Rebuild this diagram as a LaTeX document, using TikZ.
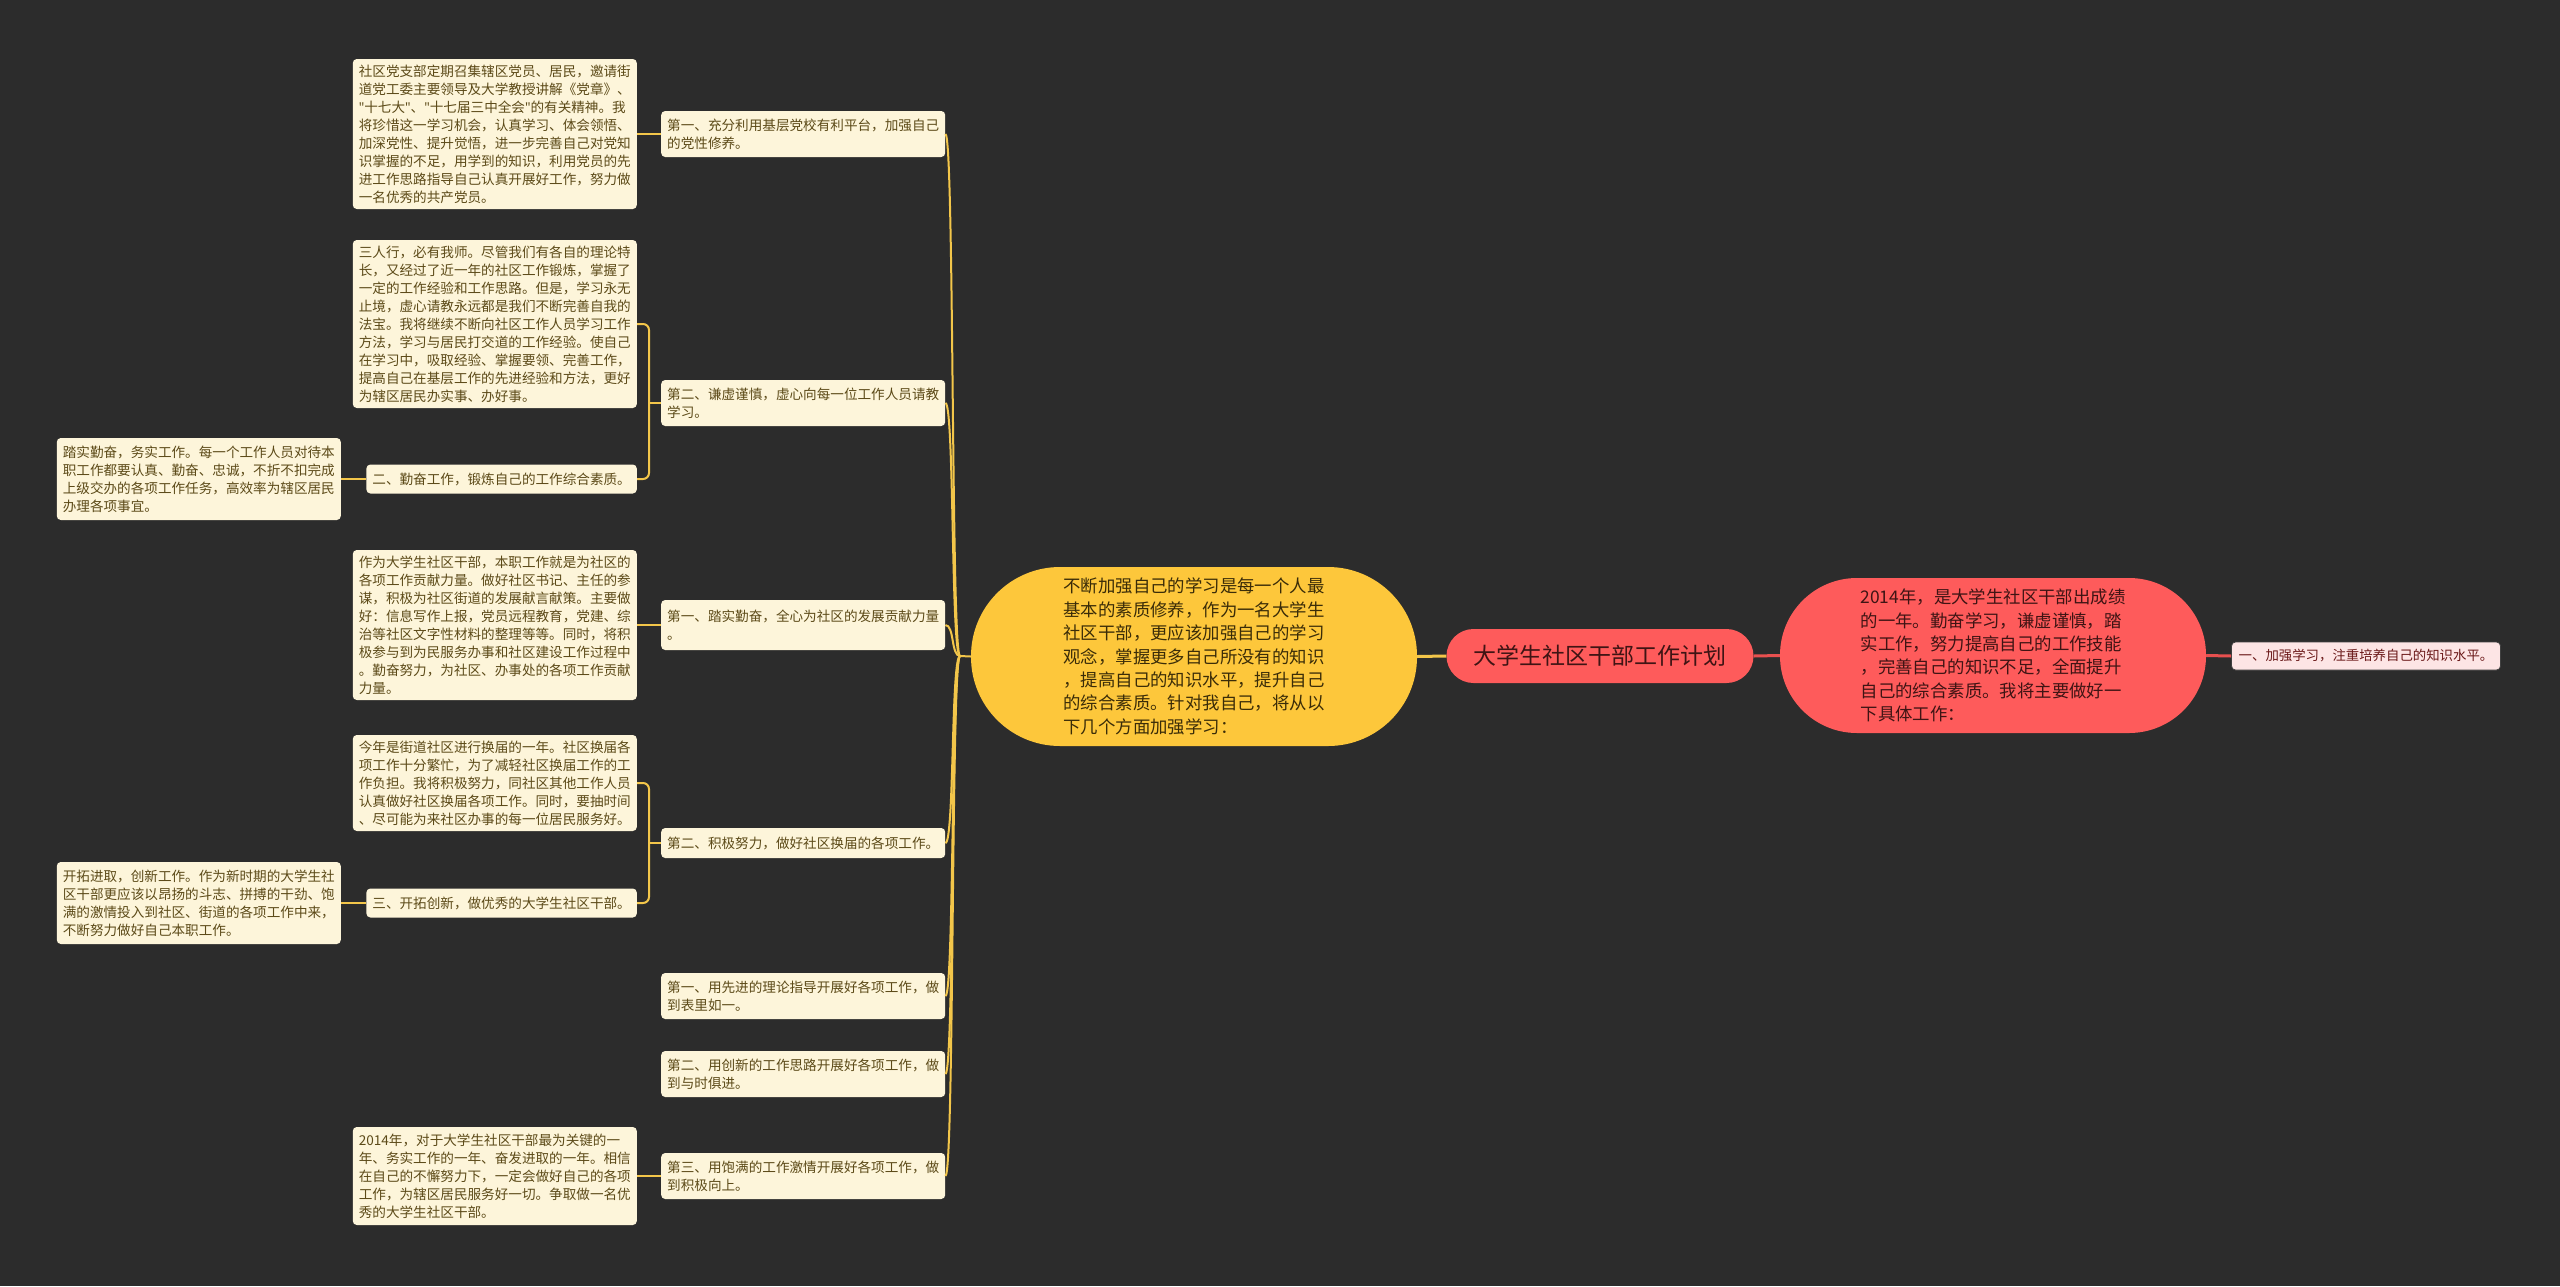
\documentclass[tikz,border=0pt]{standalone}
\usepackage{fontspec}
\setmainfont{Noto Sans CJK SC}
\newfontfamily\latinq{Noto Sans}
\newcommand{\dq}{{\latinq "}}
\definecolor{bg}{HTML}{2C2C2C}
\definecolor{cream}{HTML}{FDF5DA}
\definecolor{creamtext}{HTML}{5C4A18}
\definecolor{gold}{HTML}{F3C64A}
\definecolor{yel}{HTML}{FDC73B}
\definecolor{yeltext}{HTML}{3A2C08}
\definecolor{myred}{HTML}{FE5B5B}
\definecolor{redtext}{HTML}{3F1414}
\definecolor{pinkfill}{HTML}{FDE5E5}
\definecolor{pinktext}{HTML}{6A1818}
\definecolor{redline}{HTML}{E8504F}
\tikzset{
  box/.style={fill=cream, text=creamtext, rounded corners=4, inner xsep=6, inner ysep=4, align=left, font=\fontsize{13.6}{18}\selectfont},
  wide/.style={text width=272},
  link/.style={draw=gold, line width=2},
  mainy/.style={draw=gold, line width=3},
  mainr/.style={draw=redline, line width=3},
  bigtext/.style={font=\fontsize{17.4}{23.4}\selectfont, align=left}
}
\begin{document}
\begin{tikzpicture}[x=1pt,y=-1pt]
\fill[bg] (0,0) rectangle (2560,1286);
\useasboundingbox (0,0) rectangle (2560,1286);

% central nodes
\node[fill=myred, text=redtext, rounded corners=27, minimum width=307, minimum height=54, font=\fontsize{23}{28}\selectfont] (root) at (1600,656) {大学生社区干部工作计划};
\node[fill=yel, text=yeltext, rounded corners=89, minimum width=446, minimum height=179, bigtext] (yel) at (1194,656.5) {不断加强自己的学习是每一个人最\\基本的素质修养，作为一名大学生\\社区干部，更应该加强自己的学习\\观念，掌握更多自己所没有的知识\\，提高自己的知识水平，提升自己\\的综合素质。针对我自己，将从以\\下几个方面加强学习：};
\node[fill=myred, text=redtext, rounded corners=77, minimum width=426, minimum height=155, bigtext] (redl) at (1993,655.5) {2014年，是大学生社区干部出成绩\\的一年。勤奋学习，谦虚谨慎，踏\\实工作，努力提高自己的工作技能\\，完善自己的知识不足，全面提升\\自己的综合素质。我将主要做好一\\下具体工作：};
\node[fill=pinkfill, text=pinktext, draw=black!75, line width=0.8, rounded corners=4, minimum width=269, minimum height=28, inner xsep=5, font=\fontsize{13.4}{16}\selectfont] (leaf) at (2366,656) {一、加强学习，注重培养自己的知识水平。};

% level 2 (left)
\node[box, wide, anchor=west, minimum height=46] (L2a) at (661,134) {第一、充分利用基层党校有利平台，加强自己\\的党性修养。};
\node[box, wide, anchor=west, minimum height=46] (L2b) at (661,403) {第二、谦虚谨慎，虚心向每一位工作人员请教\\学习。};
\node[box, wide, anchor=west, minimum height=50] (L2c) at (661,625) {第一、踏实勤奋，全心为社区的发展贡献力量\\。};
\node[box, wide, anchor=west, minimum height=30] (L2d) at (661,843) {第二、积极努力，做好社区换届的各项工作。};
\node[box, wide, anchor=west, minimum height=46] (L2e) at (661,996) {第一、用先进的理论指导开展好各项工作，做\\到表里如一。};
\node[box, wide, anchor=west, minimum height=46] (L2f) at (661,1074) {第二、用创新的工作思路开展好各项工作，做\\到与时俱进。};
\node[box, wide, anchor=west, minimum height=46] (L2g) at (661,1176) {第三、用饱满的工作激情开展好各项工作，做\\到积极向上。};

% level 3
\node[box, wide, anchor=east, minimum height=150] (L3a) at (637,134) {社区党支部定期召集辖区党员、居民，邀请街\\道党工委主要领导及大学教授讲解《党章》、\\\dq 十七大\dq 、\dq 十七届三中全会\dq 的有关精神。我\\将珍惜这一学习机会，认真学习、体会领悟、\\加深党性、提升觉悟，进一步完善自己对党知\\识掌握的不足，用学到的知识，利用党员的先\\进工作思路指导自己认真开展好工作，努力做\\一名优秀的共产党员。};
\node[box, wide, anchor=east, minimum height=168] (L3b) at (637,324) {三人行，必有我师。尽管我们有各自的理论特\\长，又经过了近一年的社区工作锻炼，掌握了\\一定的工作经验和工作思路。但是，学习永无\\止境，虚心请教永远都是我们不断完善自我的\\法宝。我将继续不断向社区工作人员学习工作\\方法，学习与居民打交道的工作经验。使自己\\在学习中，吸取经验、掌握要领、完善工作，\\提高自己在基层工作的先进经验和方法，更好\\为辖区居民办实事、办好事。};
\node[box, anchor=east, minimum height=29] (L3c) at (637,479) {二、勤奋工作，锻炼自己的工作综合素质。};
\node[box, wide, anchor=east, minimum height=150] (L3d) at (637,625) {作为大学生社区干部，本职工作就是为社区的\\各项工作贡献力量。做好社区书记、主任的参\\谋，积极为社区街道的发展献言献策。主要做\\好：信息写作上报，党员远程教育，党建、综\\治等社区文字性材料的整理等等。同时，将积\\极参与到为民服务办事和社区建设工作过程中\\。勤奋努力，为社区、办事处的各项工作贡献\\力量。};
\node[box, wide, anchor=east, minimum height=96] (L3e) at (637,783) {今年是街道社区进行换届的一年。社区换届各\\项工作十分繁忙，为了减轻社区换届工作的工\\作负担。我将积极努力，同社区其他工作人员\\认真做好社区换届各项工作。同时，要抽时间\\、尽可能为来社区办事的每一位居民服务好。};
\node[box, anchor=east, minimum height=29] (L3f) at (637,903) {三、开拓创新，做优秀的大学生社区干部。};
\node[box, wide, anchor=east, minimum height=98] (L3g) at (637,1176) {2014年，对于大学生社区干部最为关键的一\\年、务实工作的一年、奋发进取的一年。相信\\在自己的不懈努力下，一定会做好自己的各项\\工作，为辖区居民服务好一切。争取做一名优\\秀的大学生社区干部。};

% level 4
\node[box, wide, anchor=east, minimum height=82] (L4a) at (341,479) {踏实勤奋，务实工作。每一个工作人员对待本\\职工作都要认真、勤奋、忠诚，不折不扣完成\\上级交办的各项工作任务，高效率为辖区居民\\办理各项事宜。};
\node[box, wide, anchor=east, minimum height=82] (L4b) at (341,903) {开拓进取，创新工作。作为新时期的大学生社\\区干部更应该以昂扬的斗志、拼搏的干劲、饱\\满的激情投入到社区、街道的各项工作中来，\\不断努力做好自己本职工作。};

% main connectors
\draw[mainy] (root.west) -- (yel.east);
\draw[mainr] (root.east) -- (redl.west);
\draw[mainr] (redl.east) -- (leaf.west);

% bus to level 2
\coordinate (bus) at (960,656);
\draw[link] (yel.west) -- (bus);
\foreach \n in {L2a,L2b,L2c,L2d,L2e,L2f,L2g}{
  \draw[link] (bus) .. controls +(-9,0) and +(9,0) .. (\n.east);
}

% level 2 to level 3
\draw[link] (L2a.west) -- (L3a.east);
\draw[link] (L2c.west) -- (L3d.east);
\draw[link] (L2g.west) -- (L3g.east);
\coordinate (jb) at ([xshift=-12]L2b.west);
\draw[link] (L2b.west) -- (jb);
\draw[link, rounded corners=6] (L3b.east) -| (jb) |- (L3c.east);
\coordinate (jd) at ([xshift=-12]L2d.west);
\draw[link] (L2d.west) -- (jd);
\draw[link, rounded corners=6] (L3e.east) -| (jd) |- (L3f.east);

% level 3 to level 4
\draw[link] (L3c.west) -- (L4a.east);
\draw[link] (L3f.west) -- (L4b.east);
\end{tikzpicture}
\end{document}
